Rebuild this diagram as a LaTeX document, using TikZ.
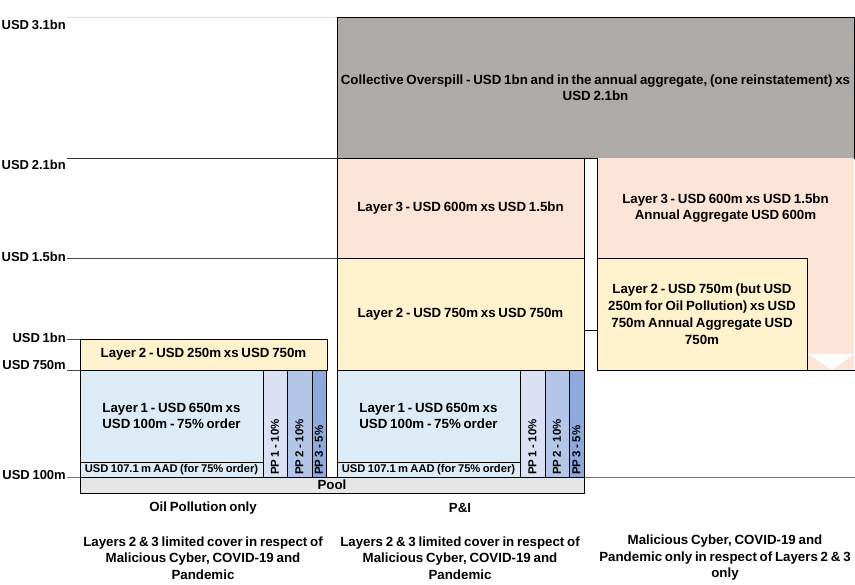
\documentclass[tikz,border=0pt]{standalone}
\usepackage{fontspec}
\setmainfont{Liberation Sans}[WordSpace=0.75]
\definecolor{overspill}{RGB}{174,170,168}
\definecolor{layerthree}{RGB}{252,228,214}
\definecolor{layertwo}{RGB}{255,242,204}
\definecolor{layerone}{RGB}{221,235,247}
\definecolor{ppone}{RGB}{217,225,242}
\definecolor{pptwo}{RGB}{180,198,231}
\definecolor{ppthree}{RGB}{142,169,219}
\definecolor{poolgrey}{RGB}{231,230,230}
\begin{document}
\begin{tikzpicture}[x=1pt, y=-1pt,
        cell/.style={draw, line width=0.8pt, inner sep=0pt, outer sep=0pt, anchor=north west,
            align=center, font=\fontsize{13.3}{16}\selectfont\bfseries},
        aad/.style={cell, fill=layerone, minimum width=183pt, minimum height=15pt,
            font=\fontsize{11.2}{12}\selectfont\bfseries},
        ppcell/.style={cell, minimum height=107pt},
        pptext/.style={rotate=90, anchor=west, inner sep=2pt, font=\fontsize{11.5}{12}\selectfont\bfseries},
        axis/.style={anchor=east, inner sep=0pt, font=\fontsize{13}{14}\selectfont\bfseries},
        note/.style={align=center, inner sep=0pt, font=\fontsize{13.3}{16.5}\selectfont\bfseries}]
        \useasboundingbox (0,0) rectangle (855,585);
        % value lines
        \draw[black!12, line width=0.8pt] (67,17) -- (337,17);
        \draw[black!80, line width=0.8pt] (67,158) -- (337,158);
        \draw[black!70, line width=0.8pt] (67,258) -- (337,258);
        \draw[black!70, line width=0.8pt] (67,339) -- (80,339);
        \draw[black!70, line width=0.8pt] (67,370) -- (80,370);
        \draw[black!55, line width=0.8pt] (67,477) -- (855,477);
        \node[axis] at(66, 25) (v31) {USD 3.1bn};
        \node[axis] at(66, 165) (v21) {USD 2.1bn};
        \node[axis] at(66, 257) (v15) {USD 1.5bn};
        \node[axis] at(66, 338) (v10) {USD 1bn};
        \node[axis] at(66, 365) (v075) {USD 750m};
        \node[axis] at(66, 475) (v01) {USD 100m};
        % oil pollution column
        \node[cell, fill=layertwo, minimum width=247pt, minimum height=31pt] at(80, 339) (oil2) {Layer 2 - USD 250m xs USD 750m};
        \node[cell, fill=layerone, minimum width=183pt, minimum height=92pt] at(80, 370) (oil1) {Layer 1 - USD 650m xs\\USD 100m - 75\% order};
        \node[aad] at(80, 462) (oilaad) {USD 107.1 m AAD (for 75\% order)};
        \node[ppcell, fill=ppone, minimum width=24pt] at(263, 370) (oilpp1) {};
        \node[ppcell, fill=pptwo, minimum width=25pt] at(287, 370) (oilpp2) {};
        \node[ppcell, fill=ppthree, minimum width=14pt] at(312, 370) (oilpp3) {};
        \node[pptext] at(oilpp1.south) (oilpp1t) {PP 1 - 10\%};
        \node[pptext] at(oilpp2.south) (oilpp2t) {PP 2 - 10\%};
        \node[pptext] at(oilpp3.south) (oilpp3t) {PP 3 - 5\%};
        % P&I column
        \node[cell, fill=overspill, minimum width=517pt, minimum height=141pt] at(337, 17) (over) {Collective Overspill - USD 1bn and in the annual aggregate, (one reinstatement) xs\\USD 2.1bn};
        \node[cell, fill=layerthree, minimum width=247pt, minimum height=100pt] at(337, 158) (pi3) {Layer 3 - USD 600m xs USD 1.5bn};
        \node[cell, fill=layertwo, minimum width=247pt, minimum height=112pt] at(337, 258) (pi2) {Layer 2 - USD 750m xs USD 750m};
        \node[cell, fill=layerone, minimum width=183pt, minimum height=92pt] at(337, 370) (pi1) {Layer 1 - USD 650m xs\\USD 100m - 75\% order};
        \node[aad] at(337, 462) (piaad) {USD 107.1 m AAD (for 75\% order)};
        \node[ppcell, fill=ppone, minimum width=25pt] at(520, 370) (pipp1) {};
        \node[ppcell, fill=pptwo, minimum width=24pt] at(545, 370) (pipp2) {};
        \node[ppcell, fill=ppthree, minimum width=15pt] at(569, 370) (pipp3) {};
        \node[pptext] at(pipp1.south) (pipp1t) {PP 1 - 10\%};
        \node[pptext] at(pipp2.south) (pipp2t) {PP 2 - 10\%};
        \node[pptext] at(pipp3.south) (pipp3t) {PP 3 - 5\%};
        \node[cell, fill=poolgrey, minimum width=504pt, minimum height=16pt] at(80, 477) (pool) {Pool};
        \draw[line width=0.8pt] (584,330) -- (597,330);
        % cyber and pandemic column
        \node[cell, draw=none, fill=layerthree, minimum width=257pt, minimum height=100pt] at(597, 158) (cy3) {Layer 3 - USD 600m xs USD 1.5bn\\Annual Aggregate USD 600m};
        \fill[layerthree] (807,258) rectangle (854,370);
        \fill[white] (808,354) -- (854,354) -- (832,370) -- cycle;
        \draw[line width=0.8pt] (cy3.north west) -- (597,370) -- (855,370);
        \node[cell, fill=layertwo, minimum width=210pt, minimum height=112pt, font=\fontsize{13.3}{17}\selectfont\bfseries] at(597, 258) (cy2) {Layer 2 - USD 750m (but USD\\250m for Oil Pollution) xs USD\\750m Annual Aggregate USD\\750m};
        % notes
        \node[note] at(203, 508) (oilname) {Oil Pollution only};
        \node[note] at(460, 508) (piname) {P\&I};
        \node[note] at(203, 558) (oilnote) {Layers 2 \& 3 limited cover in respect of\\Malicious Cyber, COVID-19 and\\Pandemic};
        \node[note] at(460, 558) (pinote) {Layers 2 \& 3 limited cover in respect of\\Malicious Cyber, COVID-19 and\\Pandemic};
        \node[note] at(725, 558) (cynote) {Malicious Cyber, COVID-19 and\\Pandemic only in respect of Layers 2 \& 3\\only};
    \end{tikzpicture}
\end{document}
